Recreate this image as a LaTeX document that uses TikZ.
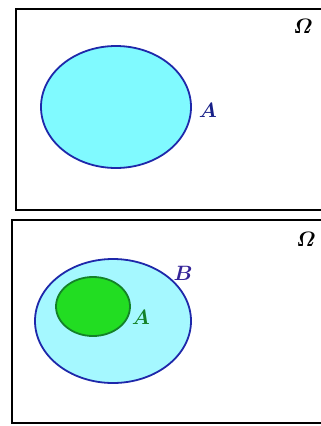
\documentclass[tikz,border=0pt]{standalone}
\usepackage{amsmath,bm}
\definecolor{setcyan}{RGB}{128,250,255}
\definecolor{setpale}{RGB}{165,248,255}
\definecolor{setgreen}{RGB}{34,221,34}
\definecolor{setdkgreen}{RGB}{20,130,40}
\definecolor{setblue}{RGB}{30,40,170}
\tikzset{
    lbl/.style={inner sep=0pt, font=\fontsize{20}{20}\selectfont},
}
\begin{document}
\begin{tikzpicture}[x=1pt, y=-1pt]
    \useasboundingbox (0,0) rectangle (321,426);
    \clip (0,0) rectangle (321,426);

    % Universal sets
    \draw[line width=2pt] (330,9) -- (16,9) -- (16,210) -- (330,210);
    \draw[line width=2pt] (330,220) -- (12,220) -- (12,423) -- (330,423);
    \node[lbl] (omega1) at (303,26) {$\bm{\varOmega}$};
    \node[lbl] (omega2) at (306,239) {$\bm{\varOmega}$};

    % Set A alone
    \filldraw[fill=setcyan, draw=setblue, line width=1.8pt] (116,107) ellipse (75 and 61);
    \node[lbl, text=setblue!80!black] (labA1) at (208,110) {$\bm{A}$};

    % A inside B
    \filldraw[fill=setpale, draw=setblue, line width=1.8pt] (113,321) ellipse (78 and 62);
    \filldraw[fill=setgreen, draw=setdkgreen, line width=1.8pt] (93,306.5) ellipse (37 and 29.5);
    \node[lbl, text=setblue!90!red] (labB) at (183,273) {$\bm{B}$};
    \node[lbl, text=setdkgreen] (labA2) at (141,317) {$\bm{A}$};
\end{tikzpicture}
\end{document}
